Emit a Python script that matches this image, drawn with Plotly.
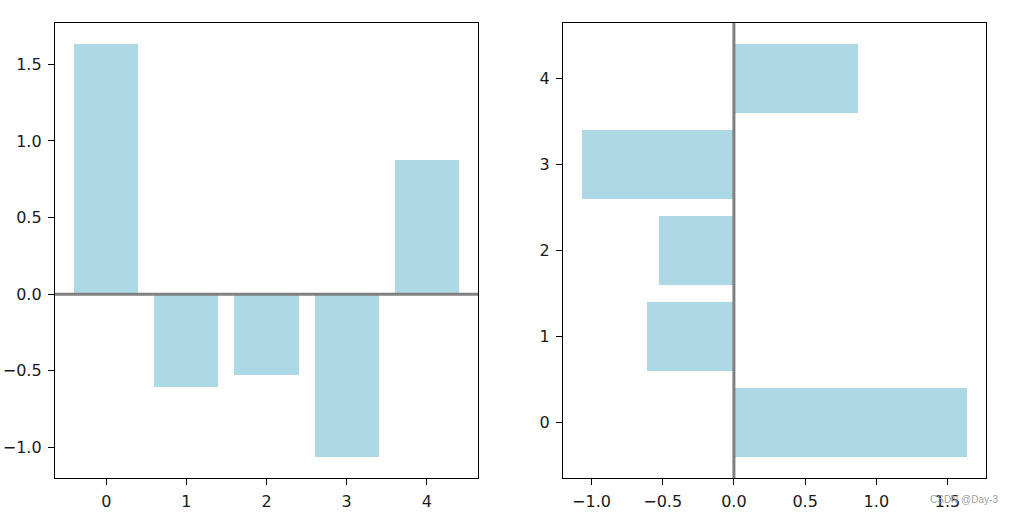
import plotly.graph_objects as go

categories = [0, 1, 2, 3, 4]
values = [1.635, -0.607, -0.527, -1.065, 0.874]

cat_ticks = [0, 1, 2, 3, 4]
cat_ticktext = ["0", "1", "2", "3", "4"]
val_ticks = [-1.0, -0.5, 0.0, 0.5, 1.0, 1.5]
val_ticktext = ["\u22121.0", "\u22120.5", "0.0", "0.5", "1.0", "1.5"]

BAR = "#add8e6"
W, H = 1011, 514

fig = go.Figure()
fig.add_trace(go.Bar(x=categories, y=values, width=0.8, marker=dict(color=BAR, line=dict(width=0)),
                     xaxis="x", yaxis="y", showlegend=False))
fig.add_trace(go.Bar(x=values, y=categories, orientation="h", width=0.8,
                     marker=dict(color=BAR, line=dict(width=0)),
                     xaxis="x2", yaxis="y2", showlegend=False))

font = dict(family="DejaVu Sans", size=16, color="#1a1a1a")
ax = dict(showline=True, mirror=True, linecolor="#000000", linewidth=1.3,
          ticks="outside", ticklen=6, tickwidth=1.3, tickcolor="#000000",
          showgrid=False, zeroline=False, tickfont=font, ticklabelstandoff=3)

ytop = 1 - 23 / H
ybot = 1 - 478 / H
vrange = [-1.2, 1.77]
crange = [-0.64, 4.64]

fig.update_layout(
    width=W, height=H, margin=dict(l=0, r=0, t=0, b=0),
    paper_bgcolor="white", plot_bgcolor="white", font=font, bargap=0,
    xaxis=dict(ax, domain=[55 / W, 478 / W], range=crange, tickvals=cat_ticks, ticktext=cat_ticktext, anchor="y"),
    yaxis=dict(ax, domain=[ybot, ytop], range=vrange, tickvals=val_ticks, ticktext=val_ticktext, anchor="x"),
    xaxis2=dict(ax, domain=[563 / W, 986 / W], range=vrange, tickvals=val_ticks, ticktext=val_ticktext, anchor="y2"),
    yaxis2=dict(ax, domain=[ybot, ytop], range=crange, tickvals=cat_ticks, ticktext=cat_ticktext, anchor="x2"),
    shapes=[
        dict(type="line", xref="x domain", yref="y", x0=0, x1=1, y0=0, y1=0,
             line=dict(color="#808080", width=3), layer="above"),
        dict(type="line", xref="x2", yref="y2 domain", x0=0, x1=0, y0=0, y1=1,
             line=dict(color="#808080", width=3), layer="above"),
    ],
    annotations=[
        dict(text="CSDN @Day-3", x=1000 / W, y=1 - 499 / H, xref="paper", yref="paper",
             xanchor="right", yanchor="middle", showarrow=False,
             font=dict(family="Liberation Sans", size=10, color="#a0a0a0")),
    ],
)

fig.write_html("out.html", config={"displayModeBar": False},
               post_script="document.body.style.margin='0';document.body.style.overflow='hidden';")
